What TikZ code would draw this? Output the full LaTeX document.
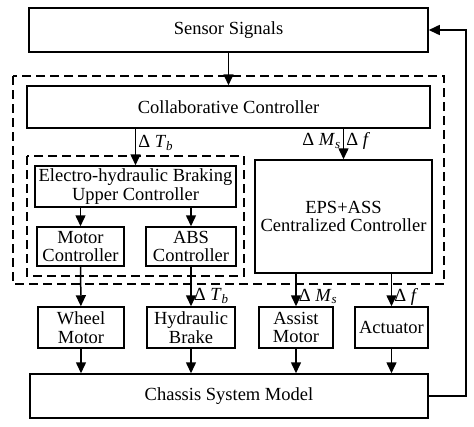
\documentclass[tikz,border=0pt]{standalone}
\usepackage{fontspec}
\setmainfont{Liberation Serif}
\usetikzlibrary{arrows.meta}

\def\dTb{Δ~\textit{T}\textsubscript{\textit{b}}}
\def\dMs{Δ~\textit{M}\textsubscript{\textit{s}}}
\def\df{Δ~\textit{f}}

\begin{document}
\begin{tikzpicture}[x=1pt,y=-1pt,
  font=\fontsize{18.5}{18.5}\selectfont,
  box/.style={draw,line width=1.5pt,inner sep=0pt,align=center},
  arr/.style={line width=1.5pt,-{Triangle[length=11pt,width=10pt]}},
  grp/.style={line width=1.5pt,dash pattern=on 9pt off 5pt},
  lbl/.style={inner sep=2pt}]
\useasboundingbox (0,0) rectangle (474,426);
% boxes
\node[box,minimum width=399pt,minimum height=44pt] (sensor) at (228.5,30) {Sensor Signals};
\node[box,minimum width=403pt,minimum height=42pt] (collab) at (228.5,107) {Collaborative Controller};
\node[box,minimum width=201pt,minimum height=41pt] (ehb) at (135.5,186.5) {Electro-hydraulic Braking\\Upper Controller};
\node[box,minimum width=87pt,minimum height=39pt] (motorc) at (80.5,246.5) {Motor\\Controller};
\node[box,minimum width=90pt,minimum height=39pt] (absc) at (191,246.5) {ABS\\Controller};
\node[box,minimum width=177pt,minimum height=113pt] (eps) at (343.5,216.5) {EPS+ASS\\Centralized Controller};
\node[box,minimum width=86pt,minimum height=41pt] (wheel) at (81,327.5) {Wheel\\Motor};
\node[box,minimum width=88pt,minimum height=41pt] (hyd) at (191,327.5) {Hydraulic\\Brake};
\node[box,minimum width=74pt,minimum height=41pt] (assist) at (296,327.5) {Assist\\Motor};
\node[box,minimum width=73pt,minimum height=41pt] (act) at (391.5,327.5) {Actuator};
\node[box,minimum width=398pt,minimum height=44pt] (chassis) at (229,396) {Chassis System Model};
% dashed groups
\draw[grp] (13,76) rectangle (444,284);
\draw[grp] (27,156) rectangle (244,276);
% connectors
\draw[arr] (sensor) -- (collab);
\draw[arr] (ehb.north |- collab.south) -- node[lbl,pos=0.4,right] {\dTb} (ehb.north);
\draw[arr] (eps.north |- collab.south) -- node[lbl,pos=0.4,left] {\dMs}
  node[lbl,pos=0.4,right] {\df} (eps.north);
\draw[arr] (ehb.south -| motorc.north) -- (motorc.north);
\draw[arr] (ehb.south -| absc.north) -- (absc.north);
\draw[arr] (motorc) -- (wheel);
\draw[arr] (absc) -- node[lbl,pos=0.75,right] {\dTb} (hyd);
\draw[arr] (eps.south -| assist.north) -- node[lbl,pos=0.7,right] {\dMs} (assist.north);
\draw[arr] (eps.south -| act.north) -- node[lbl,pos=0.7,right] {\df} (act.north);
\draw[arr] (wheel) -- (wheel.south |- chassis.north);
\draw[arr] (hyd) -- (hyd.south |- chassis.north);
\draw[arr] (assist) -- (assist.south |- chassis.north);
\draw[arr] (act) -- (act.south |- chassis.north);
% feedback
\coordinate (fbk) at (466,213);
\draw[arr] (chassis.east) -| (fbk) |- (sensor.east);
\end{tikzpicture}
\end{document}
